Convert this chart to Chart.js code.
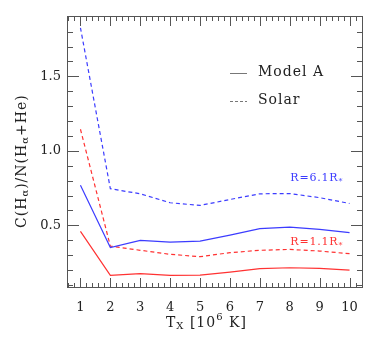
<!DOCTYPE html>
<html>
<head>
<meta charset="utf-8">
<script src="https://cdn.jsdelivr.net/npm/chart.js@4"></script>
<style>
  body { margin: 0; background: #fff; }
  #wrap { width: 374px; height: 340px; position: relative; }
</style>
</head>
<body>
<div id="wrap"><canvas id="hChart"></canvas></div>
<script>
// T_X in units of 10^6 K
const temps = [1, 2, 3, 4, 5, 6, 7, 8, 9, 10];
// R = 6.1 R*
const modelA_far = [0.77, 0.351, 0.40, 0.388, 0.395, 0.435, 0.478, 0.489, 0.473, 0.451];
const solar_far = [1.826, 0.746, 0.712, 0.652, 0.634, 0.674, 0.712, 0.714, 0.686, 0.647];
// R = 1.1 R*
const modelA_near = [0.46, 0.165, 0.176, 0.165, 0.167, 0.187, 0.21, 0.216, 0.212, 0.2];
const solar_near = [1.145, 0.361, 0.333, 0.306, 0.29, 0.317, 0.333, 0.339, 0.328, 0.31];

const xTicks = [1, 2, 3, 4, 5, 6, 7, 8, 9, 10];
const yTicks = [0.5, 1.0, 1.5];

const BLUE = 'rgb(60, 60, 255)';
const RED = 'rgb(255, 50, 50)';
const AXIS = '#555';
const FONT = 'DejaVu Serif';

function pts(ys) {
    return temps.map((t, i) => ({ x: t, y: ys[i] }));
}

function line(data, color, dashed) {
    return {
        data: pts(data),
        borderColor: color,
        borderWidth: 1.2,
        borderDash: dashed ? [4, 3] : [],
        pointRadius: 0,
        tension: 0,
        fill: false
    };
}

// draws frame, inward ticks on all sides, legend, labels and axis titles
const decorations = {
    id: 'decorations',
    afterDraw(chart) {
        const ctx = chart.ctx;
        const a = chart.chartArea;
        const xs = chart.scales.x;
        const ys = chart.scales.y;
        ctx.save();
        ctx.strokeStyle = AXIS;
        ctx.lineWidth = 1;
        ctx.strokeRect(a.left + 0.5, a.top + 0.5, a.right - a.left - 1, a.bottom - a.top - 1);

        ctx.beginPath();
        for (let v = 0.6; v <= 10.45; v += 0.2) {
            const major = Math.abs(v - Math.round(v)) < 0.01;
            const len = major ? 10 : 5;
            const px = Math.round(xs.getPixelForValue(v)) + 0.5;
            ctx.moveTo(px, a.bottom); ctx.lineTo(px, a.bottom - len);
            ctx.moveTo(px, a.top); ctx.lineTo(px, a.top + len);
        }
        for (let v = 0.1; v <= 1.9; v += 0.1) {
            const major = Math.abs(v * 2 - Math.round(v * 2)) < 0.01;
            const len = major ? 12 : 6;
            const py = Math.round(ys.getPixelForValue(v)) + 0.5;
            ctx.moveTo(a.left, py); ctx.lineTo(a.left + len, py);
            ctx.moveTo(a.right, py); ctx.lineTo(a.right - len, py);
        }
        ctx.stroke();

        // legend
        ctx.strokeStyle = '#777';
        ctx.beginPath();
        ctx.moveTo(230, 73.5); ctx.lineTo(247, 73.5);
        ctx.stroke();
        ctx.setLineDash([3, 2]);
        ctx.beginPath();
        ctx.moveTo(230, 101.5); ctx.lineTo(247, 101.5);
        ctx.stroke();
        ctx.setLineDash([]);
        ctx.fillStyle = '#222';
        ctx.font = '14px "' + FONT + '"';
        ctx.letterSpacing = '1px';
        ctx.textBaseline = 'middle';
        ctx.textAlign = 'left';
        ctx.fillText('Model A', 258, 72);
        ctx.fillText('Solar', 258, 100);

        // radius labels
        function rLabel(txt, color, x, y) {
            ctx.fillStyle = color;
            ctx.font = '11px "' + FONT + '"';
            ctx.letterSpacing = '0.8px';
            ctx.textAlign = 'left';
            ctx.fillText(txt, x, y);
            const w = ctx.measureText(txt).width;
            ctx.font = '8px "' + FONT + '"';
            ctx.fillText('*', x + w, y + 4);
        }
        rLabel('R=6.1R', BLUE, xs.getPixelForValue(8.02), ys.getPixelForValue(0.82));
        rLabel('R=1.1R', RED, xs.getPixelForValue(8.02), ys.getPixelForValue(0.386));

        // x title: T_X [10^6 K]
        ctx.fillStyle = '#222';
        ctx.letterSpacing = '1px';
        let x = 166;
        const yb = 323;
        const parts = [
            ['T', 14, 0], ['X', 10, 3], [' [10', 14, 0], ['6', 10, -6], [' K]', 14, 0]
        ];
        for (const [t, s, dy] of parts) {
            ctx.font = s + 'px "' + FONT + '"';
            ctx.fillText(t, x, yb + dy);
            x += ctx.measureText(t).width;
        }

        // y title: C(H_a)/N(H_a+He)
        ctx.translate(22, 228);
        ctx.rotate(-Math.PI / 2);
        let yx = 0;
        const yparts = [
            ['C(H', 14, 0], ['\u03b1', 10, 3], [')/N(H', 14, 0], ['\u03b1', 10, 3], ['+He)', 14, 0]
        ];
        for (const [t, s, dy] of yparts) {
            ctx.font = s + 'px "' + FONT + '"';
            ctx.fillText(t, yx, dy);
            yx += ctx.measureText(t).width;
        }
        ctx.restore();
    }
};

const ctx = document.getElementById('hChart').getContext('2d');
const chart = new Chart(ctx, {
    type: 'line',
    data: {
        datasets: [
            line(modelA_far, BLUE, false),
            line(solar_far, BLUE, true),
            line(modelA_near, RED, false),
            line(solar_near, RED, true)
        ]
    },
    options: {
        responsive: true,
        maintainAspectRatio: false,
        animation: false,
        layout: { padding: { left: 0, right: 11, top: 16, bottom: 0 } },
        plugins: {
            legend: { display: false },
            tooltip: { enabled: false }
        },
        scales: {
            x: {
                type: 'linear',
                min: 0.55,
                max: 10.45,
                afterBuildTicks: s => { s.ticks = xTicks.map(v => ({ value: v })); },
                afterFit: s => { s.height = 52; },
                grid: { display: false, drawTicks: false },
                border: { display: false },
                ticks: {
                    padding: 12,
                    color: '#222',
                    font: { family: FONT, size: 13 },
                    maxRotation: 0,
                    callback: v => String(v)
                }
            },
            y: {
                type: 'linear',
                min: 0.08,
                max: 1.905,
                afterBuildTicks: s => { s.ticks = yTicks.map(v => ({ value: v })); },
                afterFit: s => { s.width = 67; },
                grid: { display: false, drawTicks: false },
                border: { display: false },
                ticks: {
                    padding: 6,
                    color: '#222',
                    font: { family: FONT, size: 13 },
                    callback: v => v.toFixed(1)
                }
            }
        }
    },
    plugins: [decorations]
});
</script>
</body>
</html>
